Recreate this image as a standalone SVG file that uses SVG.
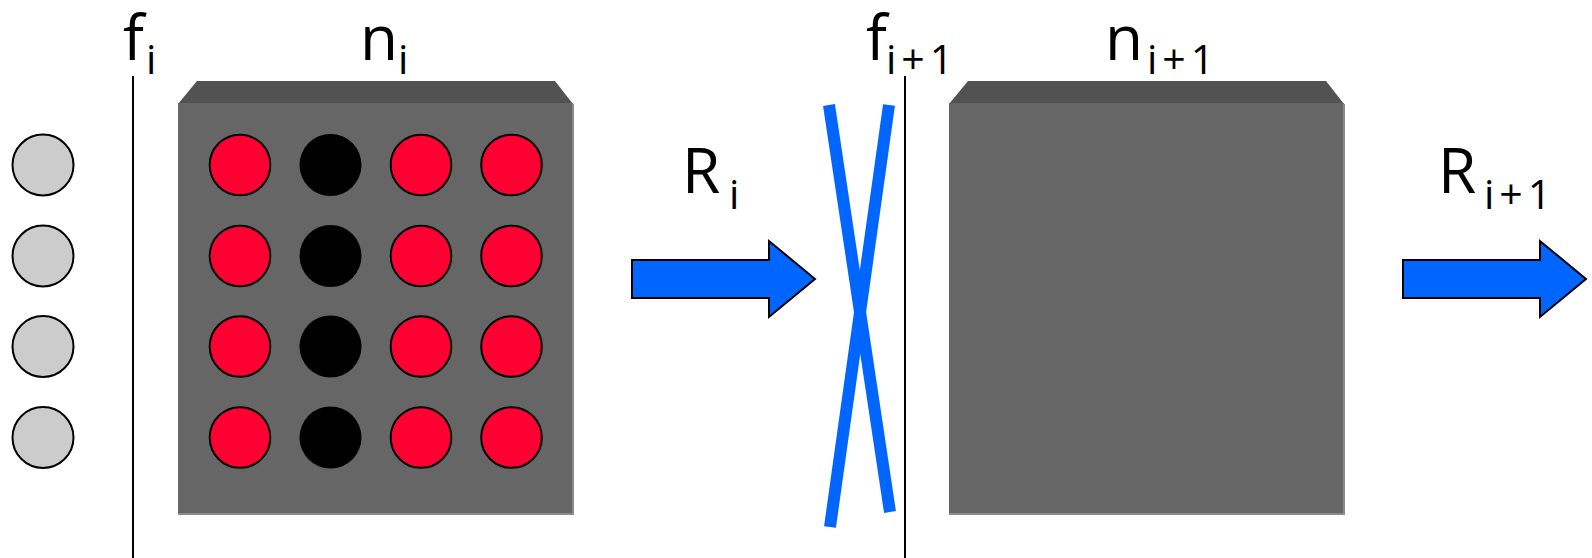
<svg xmlns="http://www.w3.org/2000/svg" width="1592" height="558" viewBox="0 0 1592 558">
<style>
.lbl{font-family:"Open Sans","Liberation Sans",sans-serif;font-size:62px;fill:#000}
.sub{font-size:41px}
.inp{fill:#cccccc;stroke:#000;stroke-width:2}
.red{fill:#ff0033;stroke:#000;stroke-width:2}
.blk{fill:#000}
.front{fill:#666666}
.top{fill:#525252}
.edge{stroke:#8a8a8a;stroke-width:2;fill:none}
.vline{stroke:#000;stroke-width:2}
.arrow{fill:#0066ff;stroke:#000;stroke-width:2;stroke-linejoin:miter}
.cross{stroke:#0066ff;stroke-width:12;stroke-linecap:butt}
</style>
<rect width="1592" height="558" fill="#fff"/>

<g id="inputs">
<circle class="inp" cx="43" cy="165" r="30.5"/>
<circle class="inp" cx="43" cy="256" r="30.5"/>
<circle class="inp" cx="43" cy="346.5" r="30.5"/>
<circle class="inp" cx="43" cy="437.5" r="30.5"/>
</g>

<g id="f_i">
<line class="vline" x1="133" y1="76" x2="133" y2="558"/>
<text class="lbl" x="123" y="60">f<tspan class="sub" x="146" y="74">i</tspan></text>
</g>

<g id="n_i">
<polygon class="top" points="178,104 197,81 555,81 573,104"/>
<rect class="front" x="178" y="103" width="395" height="411"/>
<polyline class="edge" points="573,104 573,514 178,514"/>
<text class="lbl" x="360" y="60">n<tspan class="sub" x="398" y="74">i</tspan></text>
<g id="neurons">
<circle class="red" cx="240" cy="165" r="30.3"/>
<circle class="blk" cx="330.5" cy="165" r="31"/>
<circle class="red" cx="421" cy="165" r="30.3"/>
<circle class="red" cx="511.5" cy="165" r="30.3"/>
<circle class="red" cx="240" cy="256" r="30.3"/>
<circle class="blk" cx="330.5" cy="256" r="31"/>
<circle class="red" cx="421" cy="256" r="30.3"/>
<circle class="red" cx="511.5" cy="256" r="30.3"/>
<circle class="red" cx="240" cy="346.5" r="30.3"/>
<circle class="blk" cx="330.5" cy="346.5" r="31"/>
<circle class="red" cx="421" cy="346.5" r="30.3"/>
<circle class="red" cx="511.5" cy="346.5" r="30.3"/>
<circle class="red" cx="240" cy="437.5" r="30.3"/>
<circle class="blk" cx="330.5" cy="437.5" r="31"/>
<circle class="red" cx="421" cy="437.5" r="30.3"/>
<circle class="red" cx="511.5" cy="437.5" r="30.3"/>
</g>
</g>

<g id="f_i1">
<line class="vline" x1="905" y1="76" x2="905" y2="558"/>
<text class="lbl" x="866" y="60">f<tspan class="sub" x="886" y="74" letter-spacing="5">i+1</tspan></text>
</g>

<g id="n_i1">
<polygon class="top" points="949,104 968,81 1326,81 1344,104"/>
<rect class="front" x="949" y="103" width="395" height="411"/>
<polyline class="edge" points="1344,104 1344,514 949,514"/>
<text class="lbl" x="1105" y="60">n<tspan class="sub" x="1147" y="74" letter-spacing="5">i+1</tspan></text>
</g>

<g id="R_i">
<text class="lbl" x="682" y="193">R<tspan class="sub" x="729" y="209">i</tspan></text>
</g>

<g id="R_i1">
<text class="lbl" x="1438" y="193">R<tspan class="sub" x="1484" y="209" letter-spacing="5">i+1</tspan></text>
</g>

<g id="connectors">
<polygon class="arrow" points="632,260 769,260 769,241 815,279 769,317 769,298 632,298"/>
<polygon class="arrow" points="1403,260 1540,260 1540,241 1586,279 1540,317 1540,298 1403,298"/>
<line class="cross" x1="829" y1="105" x2="890" y2="512"/>
<line class="cross" x1="889" y1="105" x2="830" y2="527"/>
</g>
</svg>
